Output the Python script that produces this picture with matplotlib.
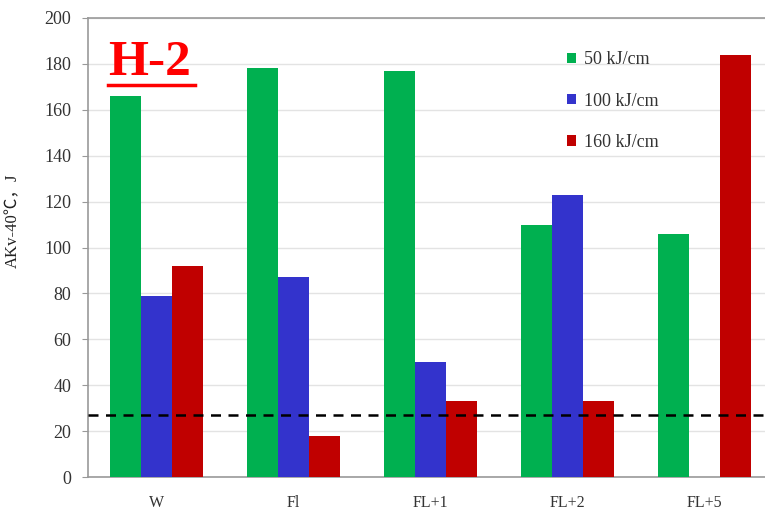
import matplotlib
matplotlib.use("Agg")
import matplotlib.pyplot as plt
import numpy as np

categories = ["W", "Fl", "FL+1", "FL+2", "FL+5"]
series_labels = ["50 kJ/cm", "100 kJ/cm", "160 kJ/cm"]
heat_50 = [166, 178, 177, 110, 106]
heat_100 = [79, 87, 50, 123, 0]
heat_160 = [92, 18, 33, 33, 184]
threshold = 27
yticks = [0, 20, 40, 60, 80, 100, 120, 140, 160, 180, 200]

colors = ["#00B050", "#3333CC", "#C00000"]
serif = ["Liberation Serif", "DejaVu Serif"]

fig = plt.figure(figsize=(7.65, 5.14), dpi=100)
ax = fig.add_axes([88 / 765, 1 - 477 / 514, 685 / 765, 459 / 514])

x = np.arange(len(categories))
w = 0.226
for i, (vals, lab, c) in enumerate(zip([heat_50, heat_100, heat_160], series_labels, colors)):
    ax.bar(x + (i - 1) * w, vals, width=w, color=c, label=lab, zorder=3)

ax.axhline(threshold, color="black", linestyle=(0, (4, 3)), linewidth=1.8, zorder=4)

ax.set_xlim(-0.5, 4.5)
ax.set_ylim(0, 200)
ax.set_yticks(yticks)
ax.set_xticks(x)
ax.set_xticklabels(categories, fontfamily=serif, fontsize=11.5)
ax.set_yticklabels([str(t) for t in yticks], fontfamily=serif, fontsize=13)
ax.tick_params(axis="x", length=0, pad=13, colors="#333333")
ax.tick_params(axis="y", length=4, color="#999999", colors="#333333", pad=8)
ax.grid(axis="y", color="#e3e3e3", linewidth=1, zorder=0)
for s in ax.spines.values():
    s.set_color("#999999")
    s.set_linewidth(1.2)

ax.set_ylabel("AKv-40℃，J", fontfamily=["Liberation Serif", "Noto Sans CJK SC"], fontsize=12,
              color="#222222")
ax.yaxis.set_label_coords(-0.098, 0.558)

leg = ax.legend(loc="upper left", bbox_to_anchor=(551 / 765, 1 - 35 / 514),
                bbox_transform=fig.transFigure, frameon=False,
                prop={"family": serif, "size": 13}, handlelength=0.5, handleheight=0.5,
                handletextpad=0.45, labelspacing=1.35)
for t in leg.get_texts():
    t.set_color("#333333")

fig.text(108 / 765, 1 - 75 / 514, "H-2", color="#FF0000", fontsize=37, fontweight="bold",
         fontfamily=serif)
fig.add_artist(plt.Line2D([108 / 765, 195 / 765], [1 - 85 / 514, 1 - 85 / 514],
                          color="#FF0000", linewidth=2.5))

fig.savefig("out.png", dpi=100)
